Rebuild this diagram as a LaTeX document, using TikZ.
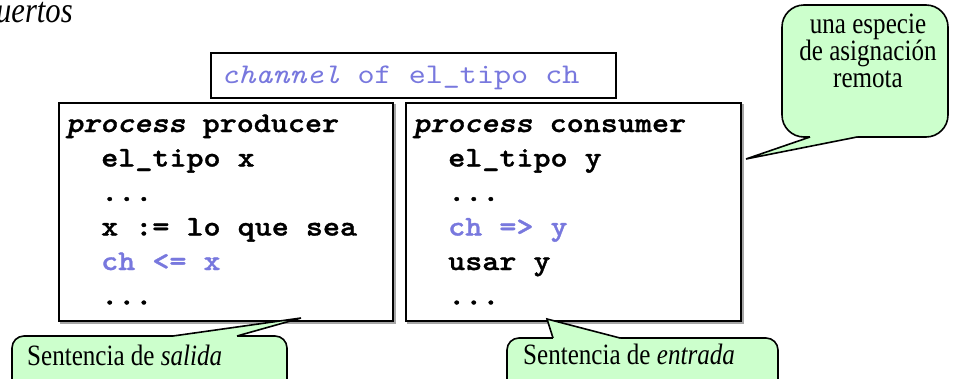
\documentclass[tikz,border=0pt]{standalone}
\usepackage{fontspec}
\setmainfont{Liberation Serif}
\newfontfamily\callfont{Liberation Serif}[FakeStretch=0.85]
\newfontfamily\codefont{lmmono10-regular.otf}[FakeStretch=1.14,
  BoldFont=lmmonolt10-bold.otf, ItalicFont=lmmono10-italic.otf,
  BoldItalicFont=lmmonolt10-boldoblique.otf,
  BoldFeatures={FakeBold=1.2}, BoldItalicFeatures={FakeBold=1.2}]
\definecolor{codeblue}{RGB}{120,120,222}
\definecolor{callgreen}{RGB}{204,255,204}
\begin{document}
\begin{tikzpicture}[x=1pt,y=-1pt,
  codebox/.style={draw=black,line width=1.8pt,fill=white},
  shadowbox/.style={draw=black!35,line width=1.2pt},
  codeline/.style={anchor=base west,inner sep=0pt,font=\fontsize{28.5}{34}\selectfont\codefont\bfseries},
  chanline/.style={anchor=base west,inner sep=0pt,text=codeblue,font=\fontsize{28.5}{34}\selectfont\codefont},
  calltext/.style={inner sep=0pt,anchor=base,font=\fontsize{29.5}{26}\selectfont\callfont},
  callout/.style={draw=black,line width=1.6pt,fill=callgreen},
  callfill/.style={fill=callgreen},
  calledge/.style={draw=black,line width=1.6pt,line join=miter}
]
\useasboundingbox (0,0) rectangle (958,378);

% title fragment
\node[anchor=base west,inner sep=0pt,font=\fontsize{36}{40}\selectfont\callfont\itshape] (title) at (-4,22) {uertos};

% channel box
\draw[codebox] (211,53) rectangle (616,98);
\node[chanline] (chan) at (221,83) {\textit{channel} of el\_tipo ch};

% producer box
\draw[shadowbox] (61,105) rectangle (395,323);
\draw[codebox] (59,103) rectangle (393,321);
\node[codeline] (p1) at (66,132) {\textit{process} producer};
\node[codeline] (p2) at (101,166.5) {el\_tipo x};
\node[codeline] (p3) at (101,201) {...};
\node[codeline] (p4) at (101,235.5) {x := lo que sea};
\node[codeline,text=codeblue] (p5) at (101,270) {ch <= x};
\node[codeline] (p6) at (101,304.5) {...};

% consumer box
\draw[shadowbox] (408,105) rectangle (743,323);
\draw[codebox] (406,103) rectangle (741,321);
\node[codeline] (c1) at (413,132) {\textit{process} consumer};
\node[codeline] (c2) at (448,166.5) {el\_tipo y};
\node[codeline] (c3) at (448,201) {...};
\node[codeline,text=codeblue] (c4) at (448,235.5) {ch => y};
\node[codeline] (c5) at (448,270) {usar y};
\node[codeline] (c6) at (448,304.5) {...};

% top-right callout
\coordinate (tipA) at (746,159);
\draw[callout,rounded corners=22pt] (782,5) rectangle (948,137);
\fill[callfill] (810,137) -- (tipA) -- (857,137) -- (857,134) -- (810,134) -- cycle;
\draw[calledge] (810,137) -- (tipA) -- (857,137);
\node[calltext] (r1) at (868,33) {una especie};
\node[calltext] (r2) at (868,60) {de asignación};
\node[calltext] (r3) at (868,87) {remota};

% bottom-left callout
\coordinate (tipB) at (301,318);
\draw[callout,rounded corners=12pt] (12,336) rectangle (287,395);
\fill[callfill] (173,336) -- (tipB) -- (237,336) -- (237,339) -- (173,339) -- cycle;
\draw[calledge] (173,336) -- (tipB) -- (237,336);
\node[calltext,anchor=base west] (salida) at (27,365) {Sentencia de \textit{salida}};

% bottom-right callout
\coordinate (tipC) at (547,319);
\draw[callout,rounded corners=12pt] (507,338) rectangle (778,395);
\fill[callfill] (553,338) -- (tipC) -- (620,338) -- (620,341) -- (553,341) -- cycle;
\draw[calledge] (553,338) -- (tipC) -- (620,338);
\node[calltext,anchor=base west] (entrada) at (523,364) {Sentencia de \textit{entrada}};
\end{tikzpicture}
\end{document}
